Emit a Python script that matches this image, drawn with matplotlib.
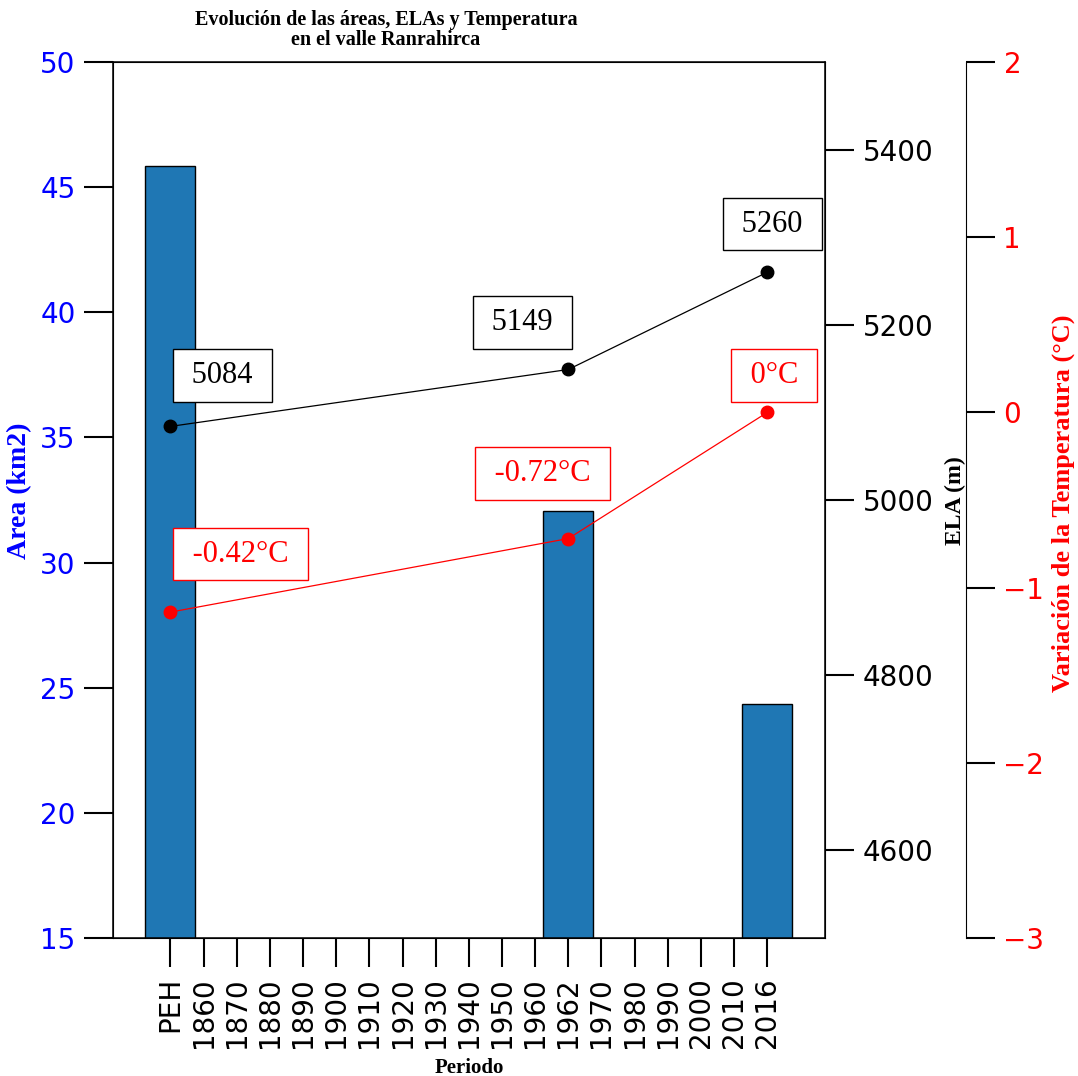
import matplotlib
matplotlib.use("Agg")
import matplotlib.pyplot as plt
import numpy as np

# Periods on the x axis
periods = ["PEH", "1860", "1870", "1880", "1890", "1900", "1910", "1920",
           "1930", "1940", "1950", "1960", "1962", "1970", "1980", "1990",
           "2000", "2010", "2016"]

# Measured periods
obs_periods = ["PEH", "1962", "2016"]
area_km2 = [45.85, 32.05, 24.35]
ela_m = [5084, 5149, 5260]
# Temperature step reported for each period (relative to the next one)
temp_step = [-0.42, -0.72, 0.0]

area_ticks = [15, 20, 25, 30, 35, 40, 45, 50]
ela_ticks = [4600, 4800, 5000, 5200, 5400]
temp_ticks = [-3, -2, -1, 0, 1, 2]

# cumulative anomaly relative to 2016
temp_anom = [sum(temp_step[i:]) for i in range(len(temp_step))]

idx = [periods.index(p) for p in obs_periods]

serif = "Liberation Serif"
DPI = 100
fig = plt.figure(figsize=(10.78, 10.76), dpi=DPI)
ax = fig.add_axes([113 / 1078, 138 / 1076, 712 / 1078, 876 / 1076])

tick_len = 21
tick_w = 1.5

# Area bars
ax.bar(idx, area_km2, width=1.5, color="#1f77b4", edgecolor="black",
       linewidth=1.0, zorder=2)
ax.set_xlim(-1.73, 19.74)
ax.set_ylim(15, 50)
ax.set_yticks(area_ticks)
ax.set_xticks(range(len(periods)))
ax.set_xticklabels(periods, rotation=90, fontsize=20)
ax.tick_params(axis="y", labelsize=20, labelcolor="blue", length=tick_len,
               width=tick_w, pad=6)
ax.tick_params(axis="x", length=tick_len, width=tick_w, pad=7)
ax.set_ylabel("Area (km2)", fontsize=20, fontweight="bold", color="blue",
              family=serif, va="center")
ax.yaxis.set_label_coords(-0.131, 0.511)
ax.set_xlabel("Periodo", fontsize=15, fontweight="bold", family=serif,
              va="center")
ax.xaxis.set_label_coords(0.5, -0.148)
for s in ax.spines.values():
    s.set_linewidth(1.1)

# ELA axis
ax2 = ax.twinx()
ax2.plot(idx, ela_m, color="black", linewidth=0.9, marker="o",
         markersize=9, zorder=3)
ax2.set_ylim(4500, 5500)
ax2.set_yticks(ela_ticks)
ax2.tick_params(axis="y", labelsize=20, length=tick_len, width=tick_w, pad=6)
ax2.set_ylabel("ELA (m)", fontsize=17, fontweight="bold", family=serif,
               va="center")
ax2.yaxis.set_label_coords((955 - 113) / 712, 0.499)

box_kw = dict(boxstyle="square,pad=0.38", fc="white", lw=1.0)

ela_offsets_px = [(52, 51), (-46, 47), (5, 48)]
for x, v, (dx, dy) in zip(idx, ela_m, ela_offsets_px):
    ax2.annotate(f" {v} ", xy=(x, v), xytext=(dx * 0.72, dy * 0.72),
                 textcoords="offset points", ha="center", va="center",
                 fontsize=22, family=serif,
                 bbox=dict(ec="black", **box_kw))

# Temperature axis
ax3 = ax.twinx()
ax3.spines["right"].set_position(("outward", 141 * 0.72))
for side in ("left", "top", "bottom"):
    ax3.spines[side].set_visible(False)
ax3.plot(idx, temp_anom, color="red", linewidth=0.9, marker="o",
         markersize=9, zorder=3)
ax3.set_ylim(-3, 2)
ax3.set_yticks(temp_ticks)
ax3.tick_params(axis="y", labelsize=20, labelcolor="red", length=tick_len,
                width=tick_w, pad=6)
ax3.set_ylabel("Variación de la Temperatura (°C)", fontsize=19,
               fontweight="bold", color="red", family=serif, va="center")
ax3.yaxis.set_label_coords((1063 - 113) / 712, 0.496)

temp_offsets_px = [(70, 58), (-26, 65), (7, 37)]
for x, v, step, (dx, dy) in zip(idx, temp_anom, temp_step, temp_offsets_px):
    label = f" {step:g}°C "
    ax3.annotate(label, xy=(x, v), xytext=(dx * 0.72, dy * 0.72),
                 textcoords="offset points", ha="center", va="center",
                 fontsize=22, family=serif, color="red",
                 bbox=dict(ec="red", **box_kw))

fig.text(386 / 1078, 1 - 30 / 1076,
         "Evolución de las áreas, ELAs y Temperatura\nen el valle Ranrahirca",
         ha="center", va="center", fontsize=14.5, fontweight="bold",
         family=serif, linespacing=1.05)

fig.savefig("out.png", dpi=DPI)
